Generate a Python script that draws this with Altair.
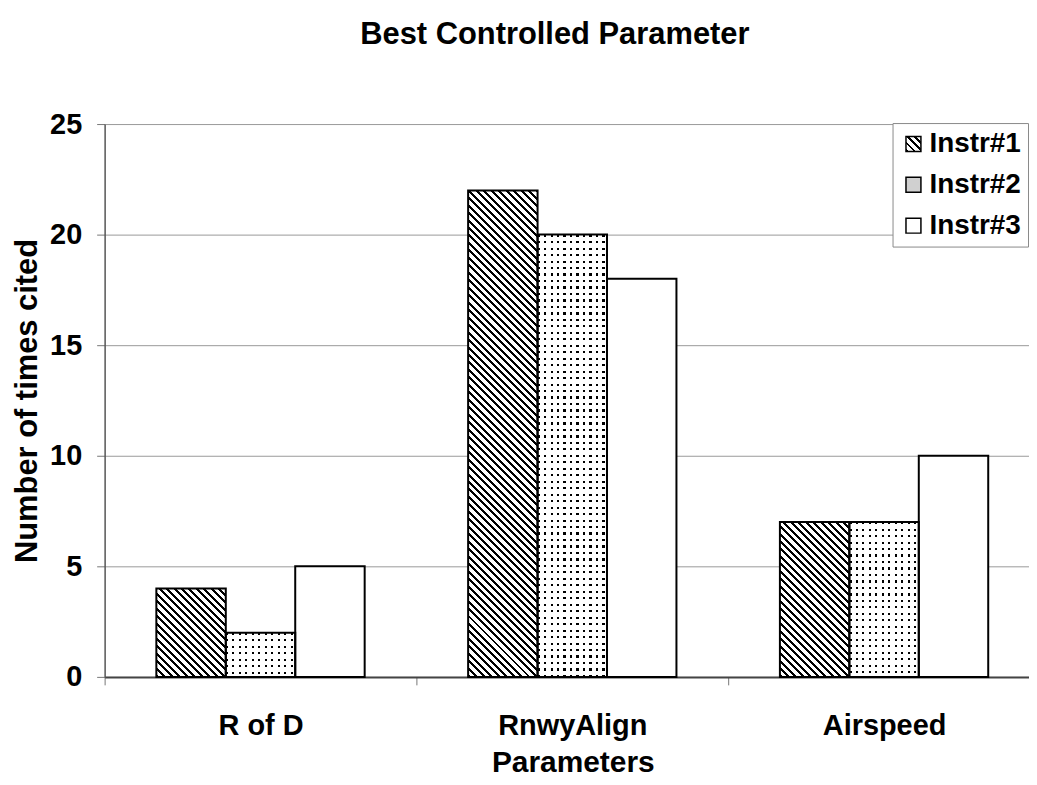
import json
import math
import altair as alt

# ---------------- data ----------------
chart_title = "Best Controlled Parameter"
categories = ["R of D", "RnwyAlign", "Airspeed"]
series = ["Instr#1", "Instr#2", "Instr#3"]
instr1 = [4, 22, 7]
instr2 = [2, 20, 7]
instr3 = [5, 18, 10]
y_ticks = [0, 5, 10, 15, 20, 25]
x_title = "Parameters"
y_title = "Number of times cited"

# ---------------- layout / style ----------------
FONT = "Liberation Sans"
PLOT_W, PLOT_H = 924, 555
X_RANGE = 939
Y_MAX = 25
OFF_PAD = 0.745
STEP = X_RANGE / len(categories)
BAR_W = STEP / (len(series) + 2 * OFF_PAD)
PX_PER_UNIT = PLOT_H / Y_MAX

HATCH_PERIOD = 7.5
HATCH_LINE = 3.0
DOT_PERIOD = 6.5
DOT_SIZE = 2.2
CLEAR = "rgba(255,255,255,0)"


def stripes(length, period, on, on_color, off_color):
    stops = []
    n = int(math.ceil(length / period))
    for i in range(n + 1):
        s = i * period / length
        if s >= 1:
            break
        e = min((i * period + on) / length, 1.0)
        nxt = min((i + 1) * period / length, 1.0)
        stops.append({"offset": round(s, 5), "color": on_color})
        stops.append({"offset": round(e, 5), "color": on_color})
        if e < 1:
            stops.append({"offset": round(e, 5), "color": off_color})
            stops.append({"offset": round(nxt, 5), "color": off_color})
    return stops


def hatch_gradient(w, h):
    r = h / w
    k = (1 + r) / (1 + r * r)
    return {"gradient": "linear", "x1": 0, "y1": 1, "x2": round(k, 6),
            "y2": round(1 - k * r, 6),
            "stops": stripes(w + h, HATCH_PERIOD, HATCH_LINE, "black", "white")}


def row_gradient(h):
    return {"gradient": "linear", "x1": 0, "y1": 0, "x2": 0, "y2": 1,
            "stops": stripes(h, DOT_PERIOD, DOT_SIZE, CLEAR, "white")}


def col_gradient(w):
    return {"gradient": "linear", "x1": 0, "y1": 0, "x2": 1, "y2": 0,
            "stops": stripes(w, DOT_PERIOD, DOT_SIZE, CLEAR, "white")}


rows = []
for s_name, vals in zip(series, [instr1, instr2, instr3]):
    for cat, v in zip(categories, vals):
        h = v * PX_PER_UNIT
        row = {"category": cat, "series": s_name, "value": v}
        if s_name == series[0]:
            row["hatch"] = hatch_gradient(BAR_W, h)
        if s_name == series[1]:
            row["hgrad"] = row_gradient(h)
            row["vgrad"] = col_gradient(BAR_W)
        rows.append(row)

data = alt.Data(values=rows)

legend_hatch = json.dumps(hatch_gradient(15, 15))

x_enc = alt.X(
    "category:N",
    scale=alt.Scale(domain=categories, range=[0, X_RANGE], paddingInner=0, paddingOuter=0),
    axis=alt.Axis(
        title=x_title, labelAngle=0, tickBand="extent", tickSize=8, tickColor="#777777",
        domainColor="#444444", domainWidth=2, labelBaseline="alphabetic", labelPadding=50,
        labelFont=FONT, labelFontSize=29, labelFontWeight="bold", labelColor="black",
        titleFont=FONT, titleFontSize=30, titleFontWeight="bold", titleColor="black",
        titleX=470, titleY=95, titleBaseline="alphabetic", titleAlign="center", grid=False,
    ),
)
xoff_enc = alt.XOffset(
    "series:N", scale=alt.Scale(domain=series, paddingInner=0, paddingOuter=OFF_PAD)
)
y_enc = alt.Y(
    "value:Q", stack=None,
    scale=alt.Scale(domain=[0, Y_MAX], nice=False),
    axis=alt.Axis(
        title=y_title, values=y_ticks, grid=True, gridColor="#9a9a9a", gridWidth=1,
        domainColor="#555555", domainWidth=1.5, tickColor="#777777", tickSize=8,
        labelFont=FONT, labelFontSize=29, labelFontWeight="bold", labelColor="black",
        labelPadding=15,
        titleFont=FONT, titleFontSize=31, titleFontWeight="bold", titleColor="black",
        titleX=-68, titleY=PLOT_H / 2, titleAngle=270, titleBaseline="alphabetic",
        titleAlign="center",
    ),
)

base = alt.Chart(data).encode(x=x_enc, xOffset=xoff_enc, y=y_enc)

layer_fill = base.mark_bar(strokeWidth=0).encode(
    fill=alt.Fill(
        "series:N",
        scale=alt.Scale(domain=series, range=[{"expr": legend_hatch}, "#d0d0d0", "white"]),
        legend=alt.Legend(
            title=None, orient="none", legendX=791, legendY=-1, padding=7,
            strokeColor="#8a8a8a", fillColor="white", symbolType="square",
            symbolSize=225, symbolStrokeColor="black", symbolStrokeWidth=1.5,
            labelFont=FONT, labelFontSize=28, labelFontWeight="bold",
            labelColor="black", rowPadding=13, labelOffset=2,
        ),
    )
)

layer_hatch = base.transform_filter(alt.datum.series == series[0]).mark_bar(
    strokeWidth=0).encode(fill=alt.Fill("hatch:N", scale=None, legend=None))

sel2 = alt.datum.series == series[1]
layer_black = base.transform_filter(sel2).mark_bar(strokeWidth=0, fill="black")
layer_rows = base.transform_filter(sel2).mark_bar(strokeWidth=0).encode(
    fill=alt.Fill("hgrad:N", scale=None, legend=None))
layer_cols = base.transform_filter(sel2).mark_bar(strokeWidth=0).encode(
    fill=alt.Fill("vgrad:N", scale=None, legend=None))

layer_outline = base.mark_bar(fillOpacity=0, stroke="black", strokeWidth=2)

chart = alt.layer(
    layer_fill, layer_hatch, layer_black, layer_rows, layer_cols, layer_outline
).properties(
    width=PLOT_W, height=PLOT_H,
    title=alt.TitleParams(
        text=chart_title, font=FONT, fontSize=31, fontWeight="bold", color="black",
        anchor="middle", frame="group", offset=59, dx=-10,
    ),
    autosize=alt.AutoSizeParams(type="none"),
    padding={"left": 97, "top": 115, "right": 4, "bottom": 99},
).configure(
    background="white",
    view=alt.ViewConfig(strokeWidth=0),
)

chart.save("out.html", embed_options={"renderer": "svg", "actions": False})
